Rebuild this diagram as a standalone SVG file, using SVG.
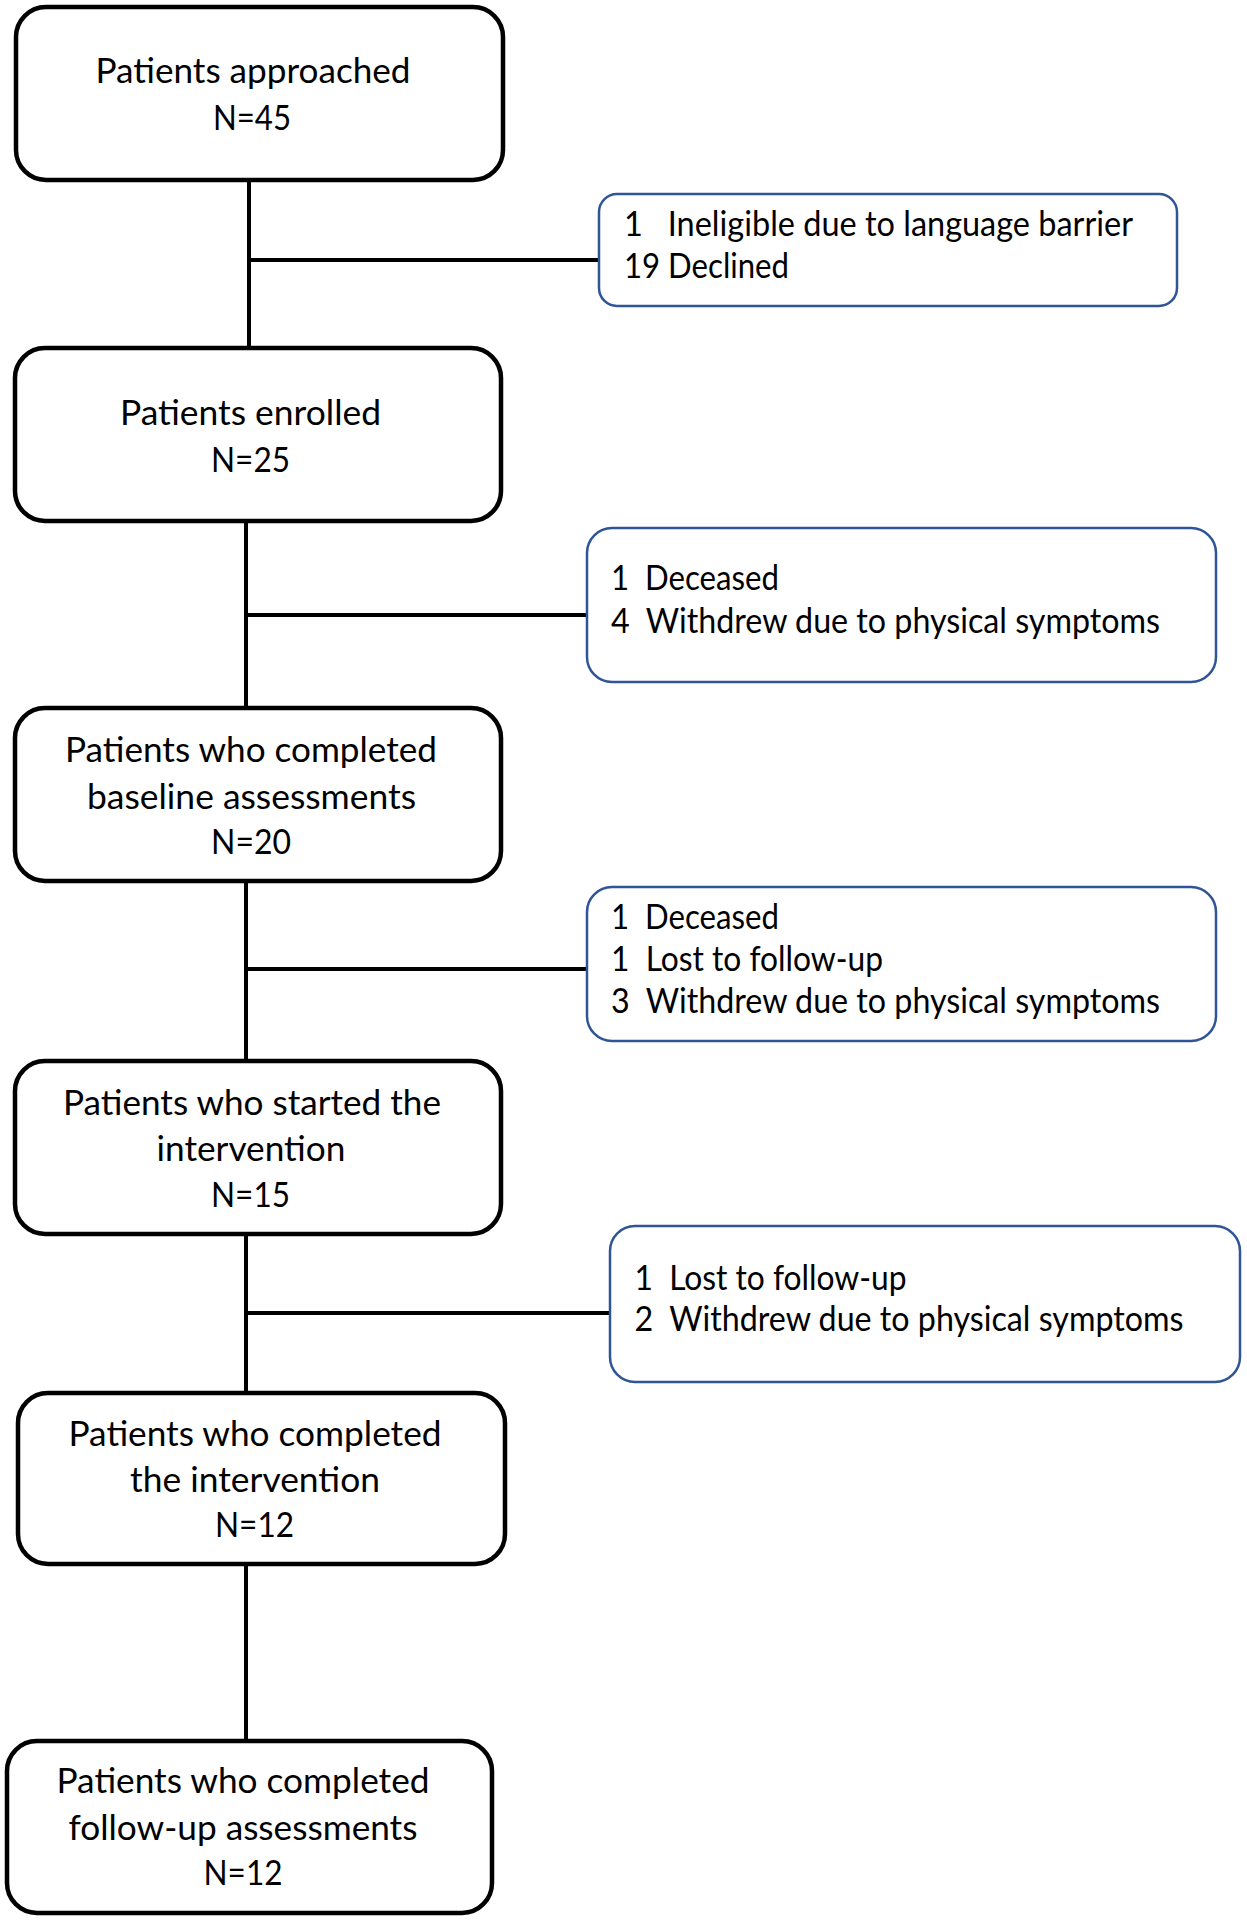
<svg xmlns="http://www.w3.org/2000/svg" width="1247" height="1920" viewBox="0 0 1247 1920">
<style>
.main{fill:#fff;stroke:#000;stroke-width:4.5}
.side{fill:#fff;stroke:#2F5597;stroke-width:2.5}
.t{font-family:Lato,"Open Sans",sans-serif;font-size:35px;fill:#000;white-space:pre}
.c{text-anchor:middle}
.ln{stroke:#000;stroke-width:4;fill:none}
</style>
<rect width="1247" height="1920" fill="#fff"/>
<g id="connectors">
<line class="ln" x1="249" y1="180" x2="249" y2="348"/>
<line class="ln" x1="249" y1="260" x2="599" y2="260"/>
<line class="ln" x1="246" y1="521" x2="246" y2="708"/>
<line class="ln" x1="246" y1="615" x2="587" y2="615"/>
<line class="ln" x1="246" y1="881" x2="246" y2="1061"/>
<line class="ln" x1="246" y1="969" x2="587" y2="969"/>
<line class="ln" x1="246" y1="1234" x2="246" y2="1393"/>
<line class="ln" x1="248" y1="1313" x2="610" y2="1313"/>
<line class="ln" x1="246" y1="1564" x2="246" y2="1741"/>
</g>
<g id="n1"><rect class="main" x="16" y="7" width="487" height="173" rx="30"/>
<text class="t c" x="253" y="83" textLength="315" lengthAdjust="spacingAndGlyphs">Patients approached</text><text class="t c" x="252" y="130" textLength="78" lengthAdjust="spacingAndGlyphs">N=45</text></g>
<g id="s1"><rect class="side" x="599" y="194" width="578" height="112" rx="18"/>
<text class="t" x="624" y="236" xml:space="preserve" textLength="509" lengthAdjust="spacingAndGlyphs">1   Ineligible due to language barrier</text><text class="t" x="624" y="278" textLength="165" lengthAdjust="spacingAndGlyphs">19 Declined</text></g>
<g id="n2"><rect class="main" x="15" y="348" width="486" height="173" rx="30"/>
<text class="t c" x="250.5" y="425" textLength="261" lengthAdjust="spacingAndGlyphs">Patients enrolled</text><text class="t c" x="250.5" y="472" textLength="79" lengthAdjust="spacingAndGlyphs">N=25</text></g>
<g id="s2"><rect class="side" x="587" y="528" width="629" height="154" rx="25"/>
<text class="t" x="611" y="590" xml:space="preserve" textLength="168" lengthAdjust="spacingAndGlyphs">1  Deceased</text><text class="t" x="611" y="633" xml:space="preserve" textLength="549" lengthAdjust="spacingAndGlyphs">4  Withdrew due to physical symptoms</text></g>
<g id="n3"><rect class="main" x="15" y="708" width="486" height="173" rx="30"/>
<text class="t c" x="251" y="762" textLength="372" lengthAdjust="spacingAndGlyphs">Patients who completed</text><text class="t c" x="251.5" y="809" textLength="329" lengthAdjust="spacingAndGlyphs">baseline assessments</text><text class="t c" x="251" y="854" textLength="80" lengthAdjust="spacingAndGlyphs">N=20</text></g>
<g id="s3"><rect class="side" x="587" y="887" width="629" height="154" rx="25"/>
<text class="t" x="611" y="929" xml:space="preserve" textLength="168" lengthAdjust="spacingAndGlyphs">1  Deceased</text><text class="t" x="611" y="971" xml:space="preserve" textLength="272" lengthAdjust="spacingAndGlyphs">1  Lost to follow-up</text><text class="t" x="611" y="1013" xml:space="preserve" textLength="549" lengthAdjust="spacingAndGlyphs">3  Withdrew due to physical symptoms</text></g>
<g id="n4"><rect class="main" x="15" y="1061" width="486" height="173" rx="30"/>
<text class="t c" x="252" y="1115" textLength="378" lengthAdjust="spacingAndGlyphs">Patients who started the</text><text class="t c" x="251" y="1161" textLength="189" lengthAdjust="spacingAndGlyphs">intervention</text><text class="t c" x="250.5" y="1207" textLength="79" lengthAdjust="spacingAndGlyphs">N=15</text></g>
<g id="s4"><rect class="side" x="610" y="1226" width="630" height="156" rx="25"/>
<text class="t" x="634.5" y="1290" xml:space="preserve" textLength="272" lengthAdjust="spacingAndGlyphs">1  Lost to follow-up</text><text class="t" x="634.5" y="1331" xml:space="preserve" textLength="549" lengthAdjust="spacingAndGlyphs">2  Withdrew due to physical symptoms</text></g>
<g id="n5"><rect class="main" x="18" y="1393" width="487" height="171" rx="30"/>
<text class="t c" x="255" y="1446" textLength="373" lengthAdjust="spacingAndGlyphs">Patients who completed</text><text class="t c" x="255" y="1492" textLength="250" lengthAdjust="spacingAndGlyphs">the intervention</text><text class="t c" x="254.5" y="1537" textLength="79" lengthAdjust="spacingAndGlyphs">N=12</text></g>
<g id="n6"><rect class="main" x="7" y="1741" width="485" height="172" rx="30"/>
<text class="t c" x="243" y="1793" textLength="373" lengthAdjust="spacingAndGlyphs">Patients who completed</text><text class="t c" x="243" y="1840" textLength="349" lengthAdjust="spacingAndGlyphs">follow-up assessments</text><text class="t c" x="243" y="1885" textLength="79" lengthAdjust="spacingAndGlyphs">N=12</text></g>
</svg>
